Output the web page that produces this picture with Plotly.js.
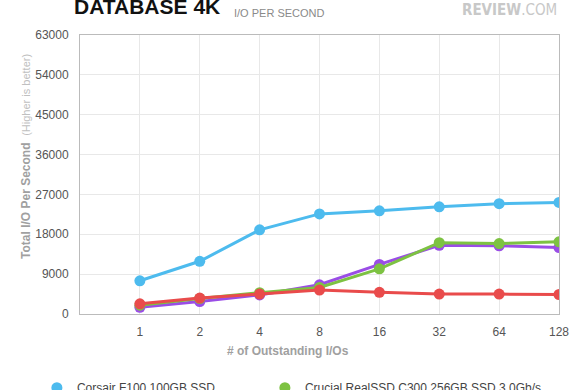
<!DOCTYPE html>
<html><head><meta charset="utf-8">
<script src="https://cdn.plot.ly/plotly-3.0.1.min.js"></script>
<style>html,body{margin:0;padding:0;background:#fff;}#chart{width:580px;height:390px;}</style>
</head><body><div id="chart"></div>
<script>
const categories = ["1","2","4","8","16","32","64","128"];
const seriesNames = ["Corsair F100 100GB SSD","Crucial RealSSD C300 256GB SSD 3.0Gb/s","Crucial RealSSD C300 256GB SSD 6.0Gb/s","Intel X25-M G2 160GB SSD"];
const corsair = [7500, 11900, 19000, 22600, 23300, 24200, 24900, 25200];
const crucial3 = [2000, 3500, 4800, 6000, 10200, 16100, 15900, 16300];
const crucial6 = [1500, 2800, 4300, 6600, 11200, 15500, 15400, 15000];
const intel = [2300, 3600, 4500, 5400, 4900, 4500, 4500, 4400];
const colors = ["#4dbbee","#7dc242","#9a4de6","#e94b4b"];
const yTicks = [0,9000,18000,27000,36000,45000,54000,63000];

const seriesData = [corsair, crucial3, crucial6, intel];
const legendCol = ['legend','legend2','legend','legend2'];
const drawOrder = [0,2,1,3];
const traces = [];
drawOrder.forEach(i => {
  traces.push({x: categories, y: seriesData[i], type:'scatter', mode:'lines+markers',
    line:{color:colors[i], width:3}, marker:{color:colors[i], size:11},
    showlegend:false, hoverinfo:'skip'});
});
[0,1,2,3].forEach(i => {
  traces.push({x:[null], y:[null], type:'scatter', mode:'markers', name:seriesNames[i],
    marker:{color:colors[i], size:11}, showlegend:true, legend:legendCol[i]});
});

const F = "Liberation Sans, Arial, sans-serif";
const legBase = {orientation:'v', xanchor:'left', y:-0.212, yanchor:'top',
  font:{family:F, size:12, color:'#444'}, bgcolor:'rgba(0,0,0,0)', tracegroupgap:6};
const layout = {
  width:580, height:390,
  margin:{l:80, r:21, t:35, b:76, autoexpand:false},
  paper_bgcolor:'#fff', plot_bgcolor:'#fff',
  font:{family:F, size:12, color:'#555'},
  xaxis:{type:'category', range:[-1,7], categoryorder:'array', categoryarray:categories,
    showgrid:true, gridcolor:'#e8e8e8', gridwidth:1,
    showline:true, linecolor:'#bbb', linewidth:1, mirror:true,
    ticks:'outside', ticklen:7, tickcolor:'rgba(0,0,0,0)',
    tickfont:{family:F, size:12, color:'#555'}, zeroline:false, fixedrange:true, automargin:false},
  yaxis:{range:[0,63000], tickvals:yTicks, ticktext:yTicks.map(String),
    showgrid:true, gridcolor:'#e8e8e8', gridwidth:1,
    showline:true, linecolor:'#bbb', linewidth:1, mirror:true,
    ticks:'outside', ticklen:8, tickcolor:'rgba(0,0,0,0)',
    tickfont:{family:F, size:12, color:'#555'}, zeroline:false, fixedrange:true, automargin:false},
  showlegend:true,
  legend:Object.assign({}, legBase, {x:-0.09}),
  legend2:Object.assign({}, legBase, {x:0.386}),
  annotations:[
    {text:'<b>DATABASE 4K</b>', xref:'paper', yref:'paper', x:-0.017, y:1.055, xanchor:'left', yanchor:'bottom',
     showarrow:false, font:{family:F, size:21, color:'#111'}},
    {text:'I/O PER SECOND', xref:'paper', yref:'paper', x:0.318, y:1.08, xanchor:'left', yanchor:'middle',
     showarrow:false, font:{family:F, size:11, color:'#8a8a8a'}},
    {text:'<b>REVIEW</b>.COM', xref:'paper', yref:'paper', x:1.0, y:1.09, xanchor:'right', yanchor:'middle',
     showarrow:false, font:{family:'DejaVu Sans Condensed, DejaVu Sans, sans-serif', size:15, color:'#c8c8c8'}},
    {text:'<b>Total I/O Per Second</b>  <span style="font-size:11px;color:#c0c0c0">(Higher is better)</span>',
     xref:'paper', yref:'paper', x:-0.113, y:0.566, xanchor:'center', yanchor:'middle', textangle:-90,
     showarrow:false, font:{family:F, size:12, color:'#a0a0a0'}},
    {text:'<b># of Outstanding I/Os</b>', xref:'paper', yref:'paper', x:0.434, y:-0.133, xanchor:'center', yanchor:'middle',
     showarrow:false, font:{family:F, size:12, color:'#a0a0a0'}}
  ]
};
Plotly.newPlot('chart', traces, layout, {displayModeBar:false, staticPlot:true});
</script></body></html>
